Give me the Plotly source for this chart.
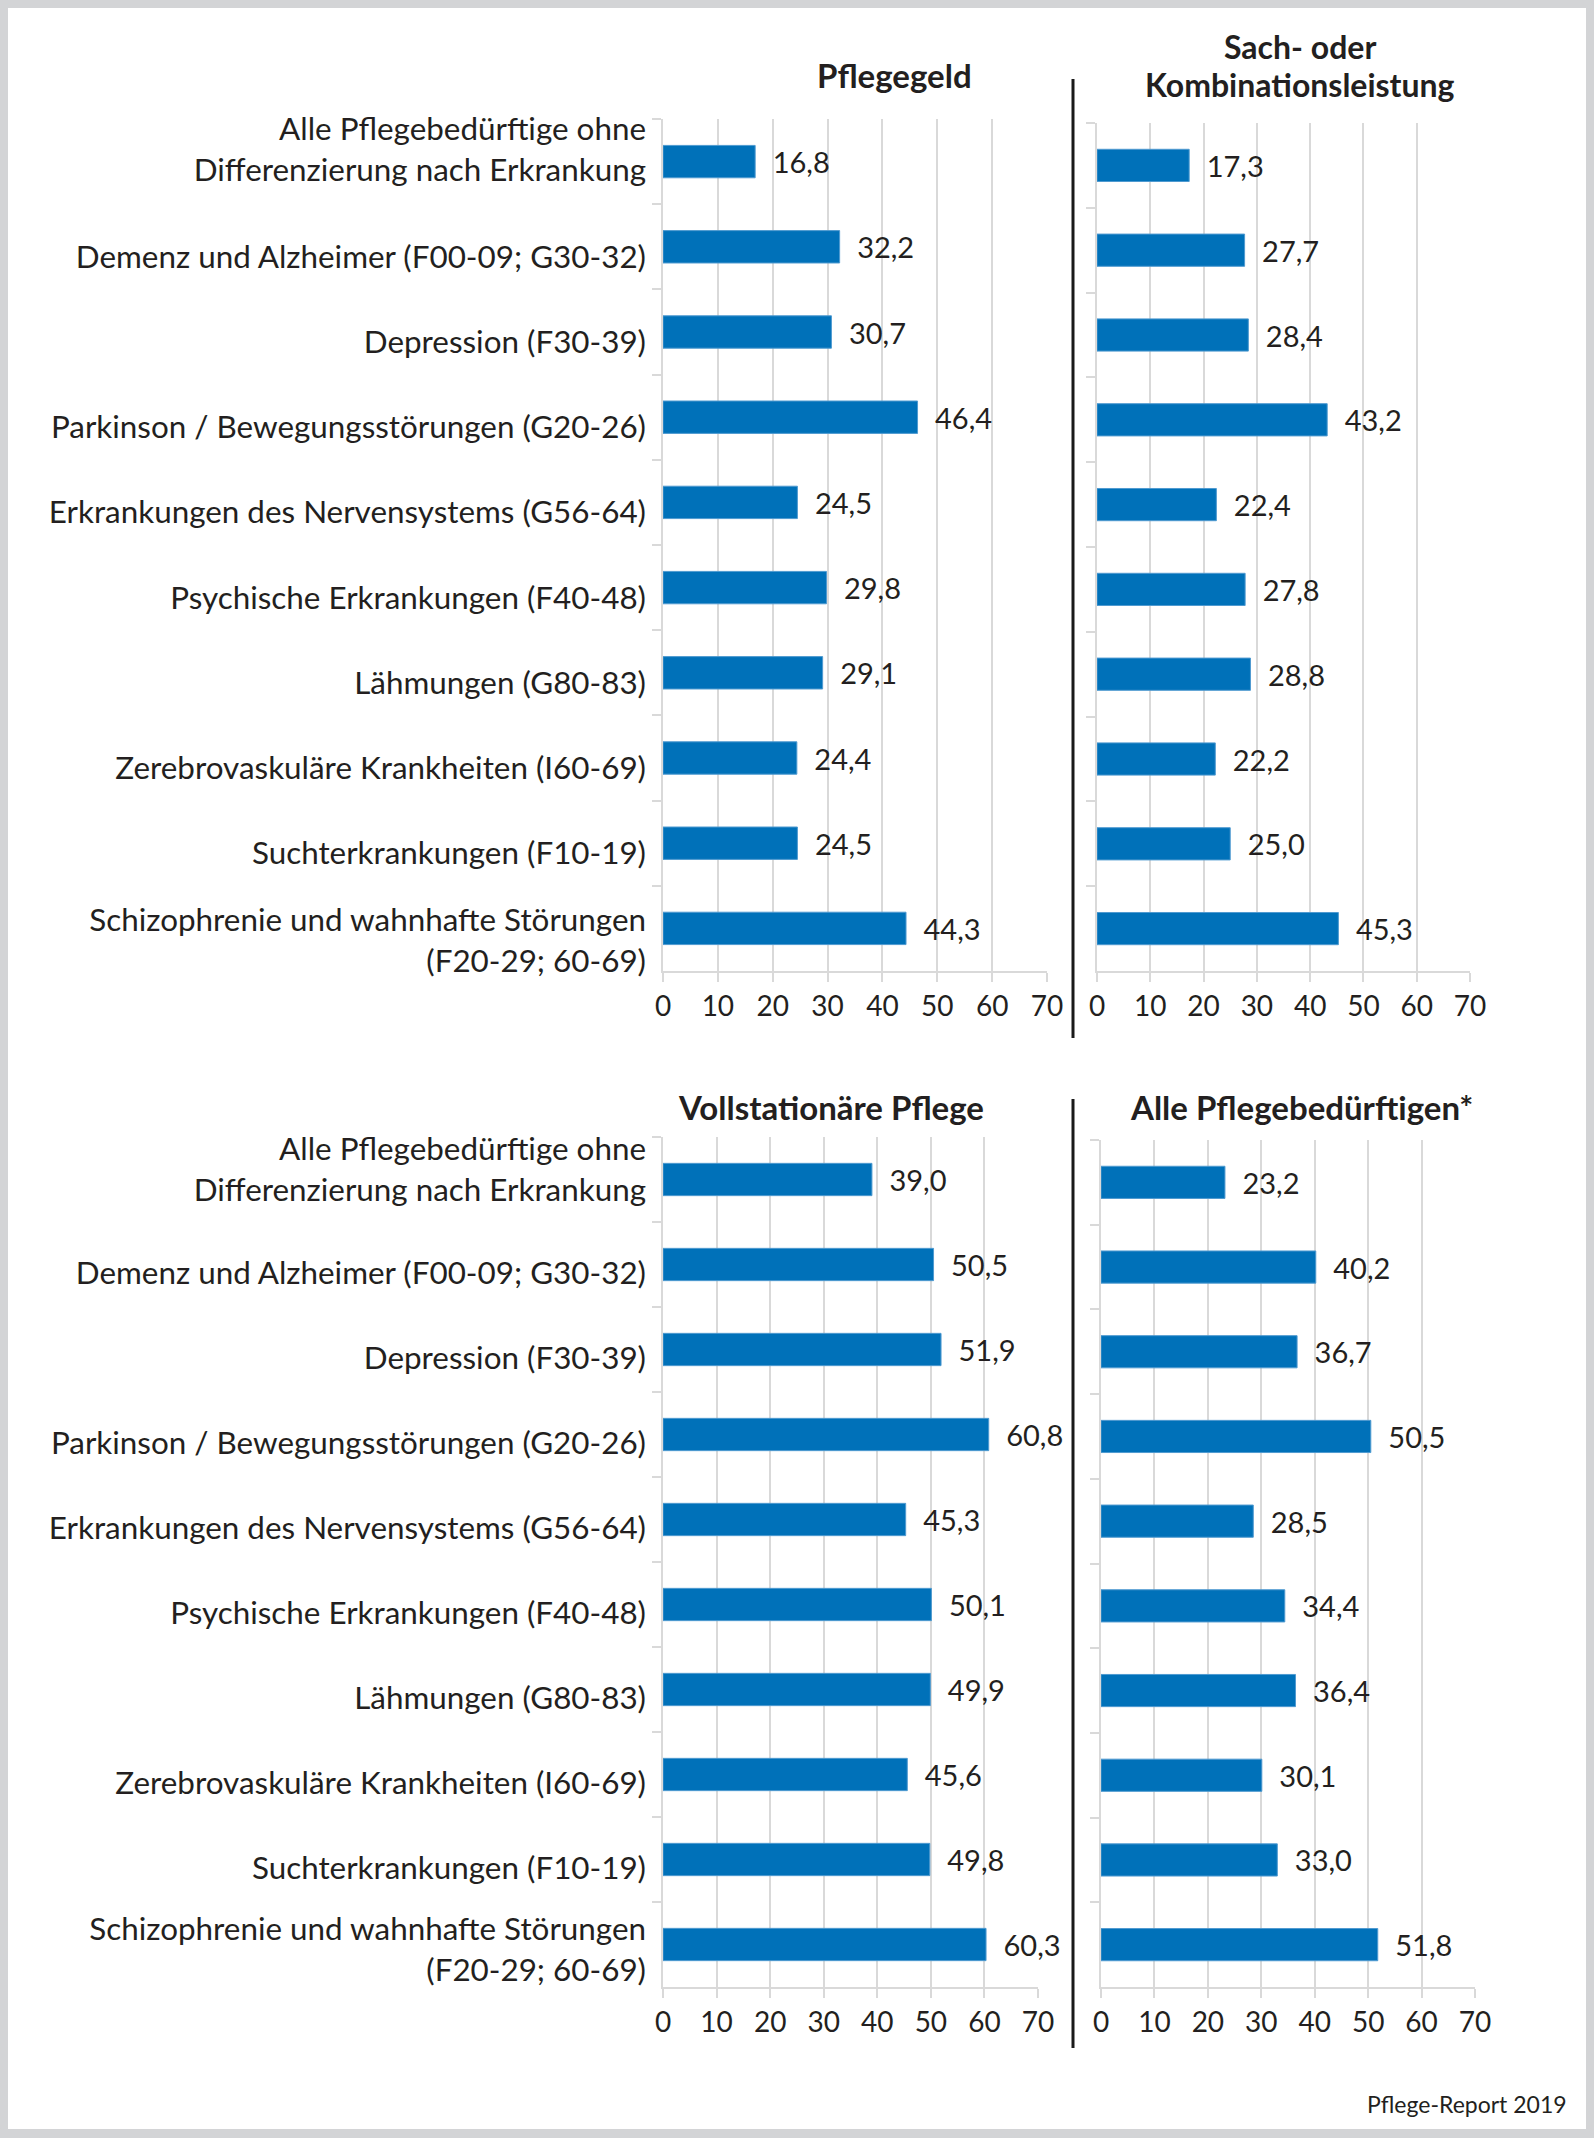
import plotly.graph_objects as go

categories = [
    "Alle Pflegebedürftige ohne<br>Differenzierung nach Erkrankung",
    "Demenz und Alzheimer (F00-09; G30-32)",
    "Depression (F30-39)",
    "Parkinson / Bewegungsstörungen (G20-26)",
    "Erkrankungen des Nervensystems (G56-64)",
    "Psychische Erkrankungen (F40-48)",
    "Lähmungen (G80-83)",
    "Zerebrovaskuläre Krankheiten (I60-69)",
    "Suchterkrankungen (F10-19)",
    "Schizophrenie und wahnhafte Störungen<br>(F20-29; 60-69)",
]

pflegegeld = [16.8, 32.2, 30.7, 46.4, 24.5, 29.8, 29.1, 24.4, 24.5, 44.3]
sach_kombi = [17.3, 27.7, 28.4, 43.2, 22.4, 27.8, 28.8, 22.2, 25.0, 45.3]
vollstationaer = [39.0, 50.5, 51.9, 60.8, 45.3, 50.1, 49.9, 45.6, 49.8, 60.3]
alle = [23.2, 40.2, 36.7, 50.5, 28.5, 34.4, 36.4, 30.1, 33.0, 51.8]

panel_title_lines = [["Pflegegeld"], ["Sach- oder", "Kombinationsleistung"],
                     ["Vollstationäre Pflege"], ["Alle Pflegebedürftigen*"]]
x_ticks = [0, 10, 20, 30, 40, 50, 60, 70]
source_text = "Pflege-Report 2019"

W, H = 1594, 2138
FONT = "Lato"
TXT = "#231f20"
GRID = "#d9d9d9"
BAR = "#0071b9"
NCAT = len(categories)
YRANGE = [NCAT - 0.5, -0.5]


def px(x):
    return x / W


def py(y):
    return 1 - y / H


# panel boxes in pixels: (left, right, top, bottom)
boxes = [
    (663, 1047, 119, 971),
    (1097, 1470, 123, 971),
    (663, 1038, 1137, 1987),
    (1101, 1475, 1140, 1987),
]

# vertical nudges (px, negative = down) of the category labels, per left panel:
# (first label, middle labels, last label)
label_nudges = {0: (12, -10, -12), 2: (10, -8, -5)}

fig = go.Figure()
series = [pflegegeld, sach_kombi, vollstationaer, alle]
extra_axis = 5

for i, (vals, box) in enumerate(zip(series, boxes)):
    l, r, t, b = box
    xa = "xaxis" if i == 0 else f"xaxis{i+1}"
    ya = "yaxis" if i == 0 else f"yaxis{i+1}"
    xref = "x" if i == 0 else f"x{i+1}"
    yref = "y" if i == 0 else f"y{i+1}"
    fig.add_trace(go.Bar(
        x=vals, y=categories, orientation="h",
        marker=dict(color=BAR, line=dict(color="#4f9ad0", width=1)),
        text=["\u2002" + f"{v:.1f}".replace(".", ",") for v in vals],
        textposition="outside", constraintext="none", cliponaxis=False,
        textfont=dict(family=FONT, size=29, color=TXT),
        xaxis=xref, yaxis=yref, showlegend=False, hoverinfo="skip",
    ))
    fig.update_layout(**{
        xa: dict(domain=[px(l), px(r)], range=[0, 70], tickvals=x_ticks,
                 anchor=yref, showgrid=True, gridcolor=GRID, gridwidth=2,
                 showline=True, linecolor=GRID, linewidth=2, zeroline=False,
                 ticks="outside", ticklen=9, tickwidth=2, tickcolor=GRID,
                 automargin=False,
                 tickfont=dict(family=FONT, size=28, color=TXT), fixedrange=True),
        ya: dict(domain=[py(b), py(t)], anchor=xref, range=YRANGE,
                 type="category", categoryorder="array", categoryarray=categories,
                 showline=True, linecolor=GRID, linewidth=2,
                 ticks="outside", tickson="boundaries", ticklen=9, tickwidth=2,
                 tickcolor=GRID, showgrid=False, automargin=False,
                 showticklabels=False, fixedrange=True),
    })
    # category labels on the left panels, drawn on overlay category axes so
    # that groups of labels can be nudged separately, as in the original
    if i in label_nudges:
        first, mid, last = label_nudges[i]
        groups = [(categories[:1], first), (categories[1:-1], mid), (categories[-1:], last)]
        for subset, shift in groups:
            oy = f"yaxis{extra_axis}"
            oyref = f"y{extra_axis}"
            fig.add_trace(go.Scatter(
                x=[0] * len(subset), y=subset, mode="markers",
                marker=dict(opacity=0, size=1), xaxis=xref, yaxis=oyref,
                showlegend=False, hoverinfo="skip",
            ))
            fig.update_layout(**{
                oy: dict(domain=[py(b), py(t)], anchor=xref, overlaying=yref,
                         side="left", range=YRANGE, type="category",
                         categoryorder="array", categoryarray=categories,
                         tickvals=subset, ticks="", showline=False, showgrid=False,
                         zeroline=False, automargin=False, ticklabelshift=shift,
                         ticklabelstandoff=16,
                         tickfont=dict(family=FONT, size=31.4, color=TXT),
                         fixedrange=True),
            })
            extra_axis += 1

# panel titles (one annotation per line)
title_pos = [[(894, 75)], [(1300, 46), (1300, 85)], [(831, 1107)], [(1301, 1107)]]
for lines, poss in zip(panel_title_lines, title_pos):
    for txt, (x, y) in zip(lines, poss):
        fig.add_annotation(text=f"<b>{txt}</b>", x=px(x), y=py(y), xref="paper", yref="paper",
                           xanchor="center", yanchor="middle", showarrow=False,
                           font=dict(family=FONT, size=33 if len(lines) == 1 else 32, color=TXT))

fig.add_annotation(text=source_text, x=px(1569), y=py(2104), xref="paper", yref="paper",
                   xanchor="right", yanchor="middle", showarrow=False,
                   font=dict(family=FONT, size=23, color=TXT))

# white panel on grey frame, dividers
fig.add_shape(type="rect", xref="paper", yref="paper", x0=px(8), x1=px(1586),
              y0=py(2129), y1=py(8), fillcolor="white", line=dict(width=0), layer="below")
for (y0, y1) in [(79, 1038), (1099, 2048)]:
    fig.add_shape(type="line", xref="paper", yref="paper", x0=px(1073), x1=px(1073),
                  y0=py(y0), y1=py(y1), line=dict(color="#1a1a1a", width=3))

fig.update_layout(width=W, height=H, autosize=False,
                  margin=dict(l=0, r=0, t=0, b=0, pad=0, autoexpand=False),
                  paper_bgcolor="#d3d4d6", plot_bgcolor="rgba(0,0,0,0)",
                  bargap=0.62, showlegend=False, font=dict(family=FONT, color=TXT))

post = (
    "document.documentElement.style.margin='0';"
    "document.documentElement.style.overflow='hidden';"
    "document.body.style.margin='0';"
    "document.body.style.overflow='hidden';"
    "var gd=document.getElementById('{plot_id}');"
    "Plotly.relayout(gd,{width:%d,height:%d});" % (W, H)
)
fig.write_html("out.html", post_script=post,
               config={"responsive": False, "displayModeBar": False})
